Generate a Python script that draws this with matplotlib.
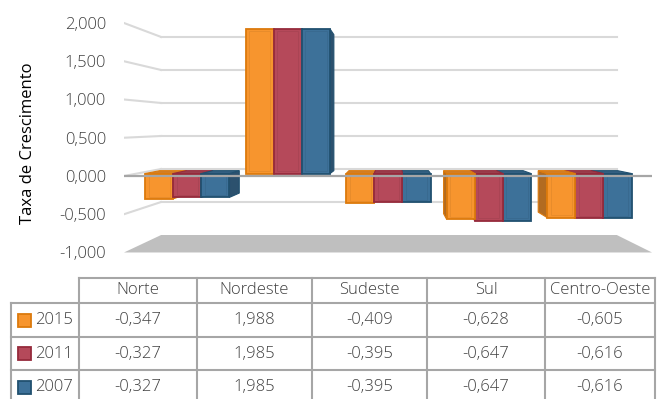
import numpy as np
import matplotlib.pyplot as plt
from matplotlib.patches import Polygon, Rectangle
from matplotlib.colors import to_rgb

# dados
regioes = ['Norte', 'Nordeste', 'Sudeste', 'Sul', 'Centro-Oeste']
anos = ['2015', '2011', '2007']
taxa_2015 = [-0.347, 1.988, -0.409, -0.628, -0.605]
taxa_2011 = [-0.327, 1.985, -0.395, -0.647, -0.616]
taxa_2007 = [-0.327, 1.985, -0.395, -0.647, -0.616]
series = [taxa_2015, taxa_2011, taxa_2007]
yticks = [-1.0, -0.5, 0.0, 0.5, 1.0, 1.5, 2.0]

cores = ['#f7952e', '#b5495a', '#3d7199']
bordas = ['#dc7a0c', '#952a3b', '#21506f']

plt.rcParams['font.family'] = ['Open Sans', 'DejaVu Sans']
plt.rcParams['font.weight'] = 'light'


def fmt(v):
    return f"{v:.3f}".replace('.', ',')


def shade(c, f):
    r, g, b = to_rgb(c)
    return (r * f, g * f, b * f)


# perspectiva "falsa" tipo Excel 3D
VX, VY = 2.566, 0.667


def proj(x, v, d):
    k = 1 - 0.137 * d
    return (VX + (x - VX) * k, VY + (v - VY) * k)


fig = plt.figure(figsize=(6.57, 3.99), dpi=100)
ax = fig.add_axes([124 / 657, 1 - 256.3 / 399, 528 / 657, (256.3 - 15.35) / 399])
ax.set_xlim(0, 5)
ax.set_ylim(-1.05, 2.1)
for s in ax.spines.values():
    s.set_visible(False)
ax.set_xticks([])
ax.set_yticks(yticks)
ax.set_yticklabels([fmt(v) for v in yticks])
ax.tick_params(axis='y', length=0, pad=13, labelsize=12, labelcolor='#404040')

# paredes: linhas de grade
grid_c = '#d9d9d9'
for v in yticks[1:]:
    p0 = proj(0, v, 1)
    p1 = proj(5, v, 1)
    ax.plot([p0[0], p1[0]], [p0[1], p1[1]], color=grid_c, lw=1.5, zorder=1)
    f0 = proj(0, v, 0)
    ax.plot([f0[0], p0[0]], [f0[1], p0[1]], color=grid_c, lw=1.5, zorder=1)

# piso
piso = [proj(0, -1, 0), proj(0, -1, 1), proj(5, -1, 1), proj(5, -1, 0)]
ax.add_patch(Polygon(piso, closed=True, facecolor='#bfbfbf', edgecolor='none', zorder=1))

# barras
w = 0.28
d0, d1 = 0.35, 0.76
barras = []
for j, vals in enumerate(series):
    for i, val in enumerate(vals):
        x0 = i + 0.5 - 1.5 * w + j * w
        barras.append((x0, x0 + w, val, j))
barras.sort(key=lambda b: -abs((b[0] + b[1]) / 2 - VX))

z = 3
for x0, x1, val, j in barras:
    lo, hi = min(0, val), max(0, val)
    c, e = cores[j], bordas[j]
    # lado
    xs = x1 if x1 < VX else x0
    lado = [proj(xs, lo, d0), proj(xs, hi, d0), proj(xs, hi, d1), proj(xs, lo, d1)]
    ax.add_patch(Polygon(lado, closed=True, facecolor=shade(c, 0.72), edgecolor=e,
                         lw=0.8, zorder=z))
    # topo
    if hi < VY:
        topo = [proj(x0, hi, d0), proj(x1, hi, d0), proj(x1, hi, d1), proj(x0, hi, d1)]
        ax.add_patch(Polygon(topo, closed=True, facecolor=shade(c, 0.85), edgecolor=e,
                             lw=0.8, zorder=z))
    # frente
    frente = [proj(x0, lo, d0), proj(x1, lo, d0), proj(x1, hi, d0), proj(x0, hi, d0)]
    ax.add_patch(Polygon(frente, closed=True, facecolor=c, edgecolor=e, lw=1.3, zorder=z + 1))
    # brilho interno
    dx = 0.035
    dy = 0.03
    inner = [proj(x0 + dx, lo + dy, d0), proj(x1 - dx, lo + dy, d0),
             proj(x1 - dx, hi - dy, d0), proj(x0 + dx, hi - dy, d0)]
    ax.add_patch(Polygon(inner, closed=True, facecolor='none', edgecolor=shade(c, 0.9),
                         lw=0.7, alpha=0.6, zorder=z + 2))
    z += 3

# eixo zero na frente
ax.plot([0, 5], [0, 0], color='#a6a6a6', lw=1.6, zorder=200)

fig.text(28 / 657, 1 - 143 / 399, 'Taxa de Crescimento', rotation=90,
         ha='center', va='center', fontsize=12, color='black', fontweight='normal')

# tabela de dados
tab = fig.add_axes([0, 0, 1, 1], zorder=-1)
tab.set_xlim(0, 657)
tab.set_ylim(399, 0)
tab.axis('off')
col_x = [11, 79, 197, 312, 427, 545, 655]
row_y = [278, 303, 337, 370, 404]
lc = '#a6a6a6'
tab.plot([col_x[1], col_x[-1]], [row_y[0], row_y[0]], color=lc, lw=1.5)
for y in row_y[1:]:
    tab.plot([col_x[0], col_x[-1]], [y, y], color=lc, lw=1.5)
tab.plot([col_x[0], col_x[0]], [row_y[1], row_y[-1]], color=lc, lw=1.5)
for x in col_x[1:]:
    tab.plot([x, x], [row_y[0], row_y[-1]], color=lc, lw=1.5)

tc = '#404040'
for i, nome in enumerate(regioes):
    cx = (col_x[i + 1] + col_x[i + 2]) / 2
    tab.text(cx, (row_y[0] + row_y[1]) / 2, nome, ha='center', va='center',
             fontsize=12, color=tc)
for j, vals in enumerate(series):
    cy = (row_y[j + 1] + row_y[j + 2]) / 2
    tab.add_patch(Rectangle((18, cy - 6.5), 13, 13, facecolor=cores[j],
                            edgecolor=bordas[j], lw=1.3))
    tab.text(35, cy, anos[j], ha='left', va='center', fontsize=12, color=tc)
    for i, val in enumerate(vals):
        cx = (col_x[i + 1] + col_x[i + 2]) / 2
        tab.text(cx, cy, fmt(val), ha='center', va='center', fontsize=12, color=tc)

fig.savefig('out.png', dpi=100, facecolor='white')
